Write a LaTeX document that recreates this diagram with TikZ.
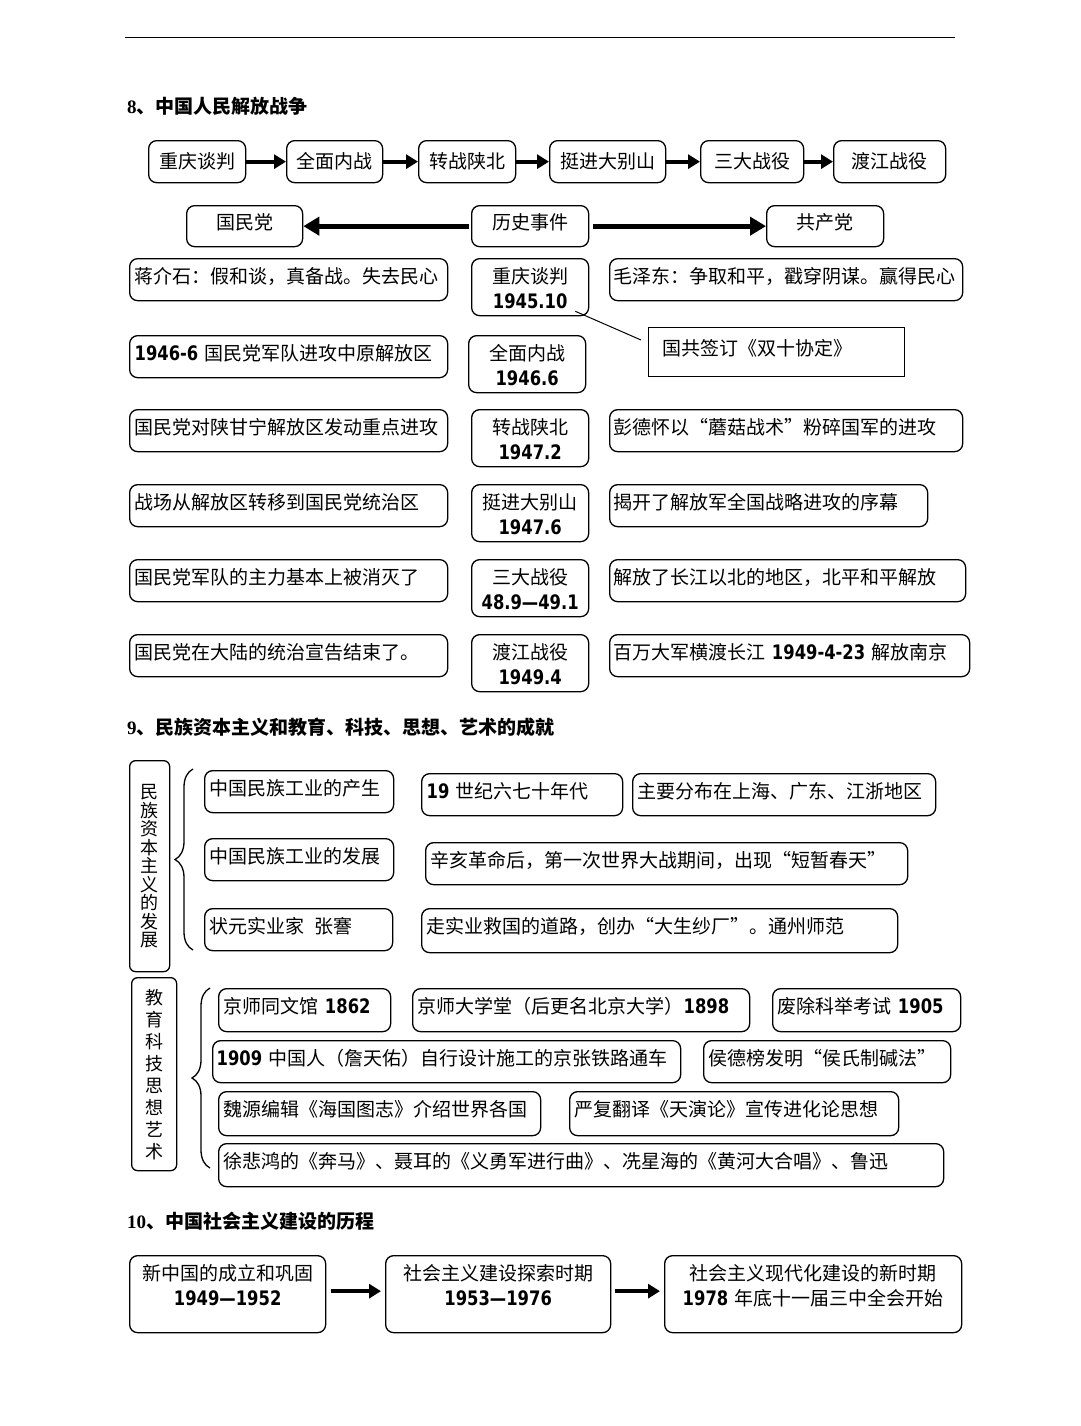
\documentclass[tikz,border=0pt]{standalone}
\usepackage{fontspec}
\setmainfont{Noto Sans CJK SC}
\newfontfamily\numf{DejaVu Sans}[Scale=1.05, FakeStretch=0.82]
\newfontfamily\hnumf{Liberation Serif}
\usetikzlibrary{arrows.meta,decorations.pathreplacing}
\newcommand\N[1]{{\numf\bfseries #1}}
\newcommand\fsA{\fontsize{19}{25}\selectfont}
\newcommand\fsB{\fontsize{19}{25}\selectfont}
\begin{document}
\begin{tikzpicture}[x=1pt,y=-1pt,
  box/.style={draw, line width=1.3pt, rounded corners=8pt, anchor=north west, inner xsep=5pt, inner ysep=0pt, font=\fsA},
  lbox/.style={box, align=left, text height=25pt, text depth=17pt},
  lboxB/.style={lbox, font=\fsB},
  cbox/.style={box, align=center},
  r1/.style={cbox, text height=28pt, text depth=14pt},
  r2/.style={cbox, text height=24pt, text depth=17pt},
  cv/.style={cbox, text width=107pt, text height=25pt, text depth=32pt},
  big/.style={cbox, text height=25pt, text depth=52pt},
  note/.style={draw, line width=1.3pt, anchor=north west, inner xsep=14pt, inner ysep=0pt, align=left, text height=28pt, text depth=21pt, font=\fsA},
  tall/.style={draw, line width=1.3pt, rounded corners=6pt, anchor=north west, align=center, inner sep=0pt},
  head/.style={anchor=west, inner sep=0pt, font=\fontsize{19}{22}\selectfont\bfseries},
  arr/.style={line width=4pt, -{Triangle[length=12pt,width=14pt]}},
  bigarr/.style={line width=5pt, -{Triangle[length=16pt,width=18pt]}},
  brc/.style={decorate, decoration={brace, amplitude=18pt, aspect=0.5}, line width=1.3pt},
  thinline/.style={line width=1pt}
]
\fill[white] (0,0) rectangle (1080,1426);
\useasboundingbox (0,0) rectangle (1080,1426);
\draw[line width=1pt] (125,38) -- (955,38);

% ---------- Section 8 ----------
\node[head] (h8) at (127,106) {{\hnumf 8}、中国人民解放战争};

\node[r1, text width=87pt] (t1) at (148,140) {重庆谈判};
\node[r1, text width=86pt] (t2) at (286,140) {全面内战};
\node[r1, text width=87pt] (t3) at (418,140) {转战陕北};
\node[r1, text width=106pt] (t4) at (549,140) {挺进大别山};
\node[r1, text width=93pt] (t5) at (700,140) {三大战役};
\node[r1, text width=102pt] (t6) at (833,140) {渡江战役};
\draw[arr] (t1) -- (t2);
\draw[arr] (t2) -- (t3);
\draw[arr] (t3) -- (t4);
\draw[arr] (t4) -- (t5);
\draw[arr] (t5) -- (t6);

\node[r2, text width=106pt] (gm) at (186,205) {国民党};
\node[r2, text width=107pt] (ls) at (471,205) {历史事件};
\node[r2, text width=107pt] (gc) at (766,205) {共产党};
\draw[bigarr, shorten <=2pt] (ls) -- (gm);
\draw[bigarr, shorten <=4pt] (ls) -- (gc);

% row a
\node[lbox, text width=308pt] (la) at (129,258) {蒋介石：假和谈，真备战。失去民心};
\node[cv] (ca) at (471,258) {重庆谈判\\\N{1945.10}};
\node[lbox, text width=345pt, inner xsep=4pt] (ra) at (609,258) {毛泽东：争取和平，戳穿阴谋。赢得民心};
\node[note, text width=228pt] (nt) at (648,327) {国共签订《双十协定》};
\draw[thinline] ([xshift=-14pt,yshift=5pt]ca.south east) -- ([xshift=-7pt,yshift=-13pt]nt.north west);
% row b
\node[lbox, text width=308pt] (lb) at (129,335) {\N{1946-6} 国民党军队进攻中原解放区};
\node[cv] (cb) at (468,335) {全面内战\\\N{1946.6}};
% row c
\node[lbox, text width=308pt] (lc) at (129,409) {国民党对陕甘宁解放区发动重点进攻};
\node[cv] (cc) at (471,409) {转战陕北\\\N{1947.2}};
\node[lbox, text width=345pt, inner xsep=4pt] (rc) at (609,409) {彭德怀以“蘑菇战术”粉碎国军的进攻};
% row d
\node[lbox, text width=308pt] (ld) at (129,484) {战场从解放区转移到国民党统治区};
\node[cv] (cd) at (471,484) {挺进大别山\\\N{1947.6}};
\node[lbox, text width=310pt, inner xsep=4pt] (rd) at (609,484) {揭开了解放军全国战略进攻的序幕};
% row e
\node[lbox, text width=308pt] (le) at (129,559) {国民党军队的主力基本上被消灭了};
\node[cv] (ce) at (471,559) {三大战役\\\N{48.9—49.1}};
\node[lbox, text width=348pt, inner xsep=4pt] (re) at (609,559) {解放了长江以北的地区，北平和平解放};
% row f
\node[lbox, text width=308pt] (lf) at (129,634) {国民党在大陆的统治宣告结束了。};
\node[cv] (cf) at (471,634) {渡江战役\\\N{1949.4}};
\node[lbox, text width=352pt, inner xsep=4pt] (rf) at (609,634) {百万大军横渡长江 \N{1949-4-23} 解放南京};

% ---------- Section 9 ----------
\node[head] (h9) at (127,727) {{\hnumf 9}、民族资本主义和教育、科技、思想、艺术的成就};

\node[tall, minimum width=40pt, minimum height=211pt, font=\fontsize{18}{18.5}\selectfont] (v1) at (129,760) {民\\族\\资\\本\\主\\义\\的\\发\\展};
\coordinate (br1a) at (193,950);
\coordinate (br1b) at (193,769);
\draw[brc] (br1a) -- (br1b);

\node[lboxB, text width=179pt] (a1) at (204,770) {中国民族工业的产生};
\node[lboxB, text width=191pt] (a2) at (421,773) {\N{19} 世纪六七十年代};
\node[lboxB, text width=293pt] (a3) at (632,773) {主要分布在上海、广东、江浙地区};
\node[lboxB, text width=179pt] (b1) at (204,838) {中国民族工业的发展};
\node[lboxB, text width=472pt] (b2) at (425,842) {辛亥革命后，第一次世界大战期间，出现“短暂春天”};
\node[lboxB, text width=178pt] (c1) at (204,908) {状元实业家\hspace{10pt}张謇};
\node[lboxB, text width=466pt, text depth=19pt] (c2) at (421,908) {走实业救国的道路，创办“大生纱厂”。通州师范};

\node[tall, minimum width=45pt, minimum height=193pt, font=\fontsize{18}{22}\selectfont] (v2) at (131,977) {教\\育\\科\\技\\思\\想\\艺\\术};
\coordinate (br2a) at (210,1168);
\coordinate (br2b) at (210,988);
\draw[brc] (br2a) -- (br2b);

\node[lboxB, text width=162pt, text depth=18pt] (d1) at (218,988) {京师同文馆 \N{1862}};
\node[lboxB, text width=327pt, text depth=18pt] (d2) at (412,988) {京师大学堂（后更名北京大学）\N{1898}};
\node[lboxB, text width=178pt, text depth=18pt] (d3) at (772,988) {废除科举考试 \N{1905}};
\node[lboxB, text width=460pt, inner xsep=4pt] (e1) at (212,1040) {\N{1909} 中国人（詹天佑）自行设计施工的京张铁路通车};
\node[lboxB, text width=237pt] (e2) at (703,1040) {侯德榜发明“侯氏制碱法”};
\node[lboxB, text width=312pt, text depth=19pt] (f1) at (218,1091) {魏源编辑《海国图志》介绍世界各国};
\node[lboxB, text width=319pt, text depth=19pt] (f2) at (569,1091) {严复翻译《天演论》宣传进化论思想};
\node[lboxB, text width=715pt, text depth=18pt] (g1) at (218,1143) {徐悲鸿的《奔马》、聂耳的《义勇军进行曲》、冼星海的《黄河大合唱》、鲁迅};

% ---------- Section 10 ----------
\node[head] (h10) at (127,1221) {{\hnumf 10}、中国社会主义建设的历程};

\node[big, text width=186pt] (s1) at (129,1255) {新中国的成立和巩固\\\N{1949—1952}};
\node[big, text width=215pt] (s2) at (385,1255) {社会主义建设探索时期\\\N{1953—1976}};
\node[big, text width=287pt] (s3) at (664,1255) {社会主义现代化建设的新时期\\\N{1978} 年底十一届三中全会开始};
\draw[arr, shorten <=5pt, shorten >=4pt] ([yshift=3pt]s1.east) -- ([yshift=3pt]s2.west);
\draw[arr, shorten <=4pt, shorten >=4pt] ([yshift=3pt]s2.east) -- ([yshift=3pt]s3.west);
\end{tikzpicture}
\end{document}
